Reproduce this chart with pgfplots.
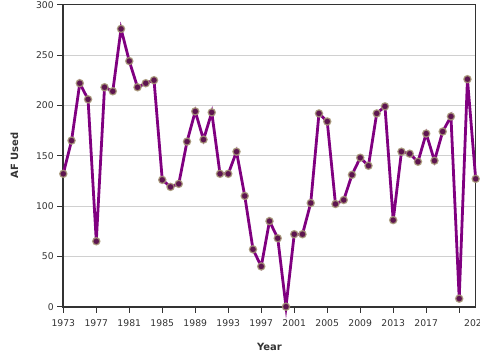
\documentclass[border=0pt]{standalone}
\usepackage{pgfplots}
\pgfplotsset{compat=1.18}
\usepackage{fontspec}
\setmainfont{DejaVu Sans}
\definecolor{linepurple}{HTML}{800080}
\definecolor{markfill}{HTML}{5E1550}
\definecolor{markdraw}{HTML}{A89A78}
\definecolor{axisdark}{HTML}{333333}
\definecolor{gridgray}{HTML}{D0D0D0}
\begin{document}
\begin{tikzpicture}[x=1bp,y=1bp]
\useasboundingbox (-63.3bp,-53.3bp) rectangle (416.7bp,306.7bp);
\begin{axis}[
  at={(0,0)}, anchor=origin,
  scale only axis, width=412.4bp, height=302bp,
  xmin=1973, xmax=2023, ymin=0, ymax=300,
  xtick={1973,1977,...,2021},
  xticklabels={1973,1977,1981,1985,1989,1993,1997,2001,2005,2009,2013,2017,{\makebox[0pt][l]{\hspace{5bp}2021}}},
  ytick={0,50,...,300},
  ymajorgrids, major grid style={gridgray, line width=0.8bp},
  axis line style={axisdark, line width=1.2bp},
  tick style={axisdark, line width=1bp},
  tick align=outside, major tick length=6bp,
  xtick pos=bottom, ytick pos=left,
  xticklabel style={font=\fontsize{9.3}{11}\selectfont, text=axisdark, yshift=-3bp},
  yticklabel style={font=\fontsize{9.3}{11}\selectfont, text=axisdark},
  /pgf/number format/assume math mode=true,
  xlabel={\textbf{Year}}, ylabel={\textbf{AF Used}},
  xlabel style={font=\fontsize{10}{12}\selectfont, text=axisdark, at={(rel axis cs:0.5,0)}, anchor=center, yshift=-40bp},
  ylabel style={font=\fontsize{10}{12}\selectfont, text=axisdark, at={(rel axis cs:0,0.5)}, anchor=center, yshift=49bp},
  clip=false,
]
\draw[axisdark, line width=2.2bp] (rel axis cs:0,1) -- (rel axis cs:0,0) -- (rel axis cs:1,0);
\addplot[color=linepurple, line width=2.8bp, mark=*, mark size=3.6bp,
  mark options={fill=markfill, draw=markdraw, draw opacity=0.85, line width=1.3bp}]
coordinates {
(1973,132) (1974,165) (1975,222) (1976,206) (1977,65) (1978,218) (1979,214)
(1980,276) (1981,244) (1982,218) (1983,222) (1984,225) (1985,126) (1986,119)
(1987,122) (1988,164) (1989,194) (1990,166) (1991,193) (1992,132) (1993,132)
(1994,154) (1995,110) (1996,57) (1997,40) (1998,85) (1999,68) (2000,0)
(2001,72) (2002,72) (2003,103) (2004,192) (2005,184) (2006,102) (2007,106)
(2008,131) (2009,148) (2010,140) (2011,192) (2012,199) (2013,86) (2014,154)
(2015,152) (2016,144) (2017,172) (2018,145) (2019,174) (2020,189) (2021,8)
(2022,226) (2023,127)
};
\end{axis}
\end{tikzpicture}
\end{document}
